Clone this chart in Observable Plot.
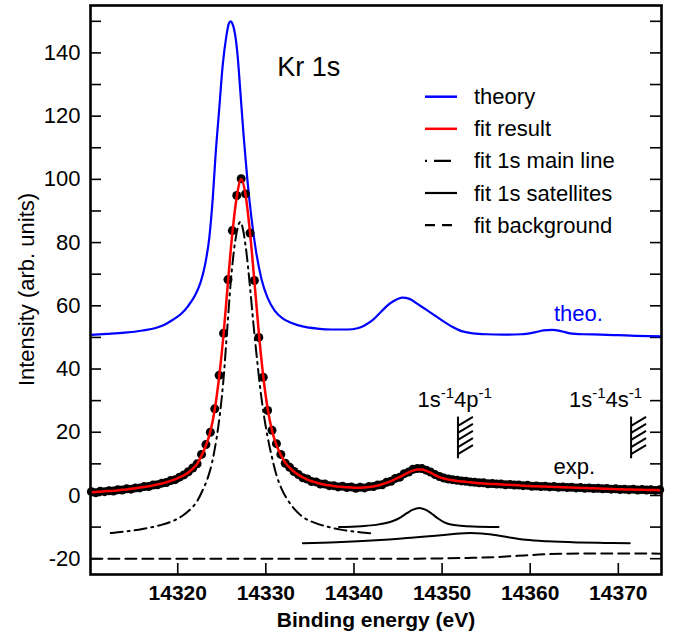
<!DOCTYPE html>
<html><head><meta charset="utf-8">
<script src="https://cdn.jsdelivr.net/npm/d3@7"></script>
<script src="https://cdn.jsdelivr.net/npm/@observablehq/plot@0.6"></script>
<style>
html,body{margin:0;padding:0;background:#fff;}
#wrap{position:relative;width:673px;height:634px;font-family:"Liberation Sans",Arial,Helvetica,sans-serif;}
#wrap svg{position:absolute;left:0;top:0;}
</style></head><body><div id="wrap"></div>
<script>
// ---------- data ----------
const xTicks = [14320, 14330, 14340, 14350, 14360, 14370];
const yLabelTicks = [-20, 0, 20, 40, 60, 80, 100, 120, 140];
const yTicks = [-20,-10,0,10,20,30,40,50,60,70,80,90,100,110,120,130,140,150];

// theory (blue)
const theoryX = [14310.1,14312,14314,14316,14317.5,14318.5,14319.4,14320.4,14321.2,14322.0,14322.6,14323.1,14323.6,14324.0,14324.3,14324.7,14325.1,14325.5,14325.8,14326.0,14326.2,14326.5,14326.8,14327.1,14327.5,14327.9,14328.4,14328.9,14329.5,14330.2,14331.0,14331.9,14333.0,14334.3,14335.8,14337.5,14339.3,14340.4,14341.2,14342.0,14342.8,14343.6,14344.5,14345.5,14346.3,14347.2,14348.2,14349.2,14350.2,14351.2,14352.2,14353.5,14355.0,14357.0,14359.0,14360.5,14361.5,14362.5,14363.5,14364.5,14366.0,14368.0,14370.0,14372.0,14374.9];
const theoryY = [50.8,51.1,51.5,52.2,53.0,54.0,55.5,57.5,60.0,63.5,67.5,73.0,82.0,95.0,108,122,136,145,149.3,150,149.3,146,139,128,113,100,87,77,68.5,62.5,58.5,56.0,54.5,53.4,52.8,52.5,52.5,52.9,53.8,55.2,57.3,59.6,61.5,62.6,62.2,60.6,58.8,56.9,55.0,53.3,52.0,51.3,51.0,50.9,51.0,51.6,52.2,52.4,52.0,51.3,51.0,50.9,50.7,50.5,50.3];

// experiment (dots) and fit result (red) on the same energy grid
const expX = [
14310.2,14310.7,14311.2,14311.7,14312.2,14312.7,14313.2,14313.7,14314.2,14314.7,
14315.2,14315.7,14316.2,14316.7,14317.2,14317.7,14318.2,14318.7,14319.2,14319.7,
14320.2,14320.7,14321.2,14321.7,14322.2,14322.7,14323.2,14323.7,14324.2,14324.7,
14325.2,14325.7,14326.2,14326.7,14327.2,14327.7,14328.2,14328.7,14329.2,14329.7,
14330.2,14330.7,14331.2,14331.7,14332.2,14332.7,14333.2,14333.7,14334.2,14334.7,
14335.2,14335.7,14336.2,14336.7,14337.2,14337.7,14338.2,14338.7,14339.2,14339.7,
14340.2,14340.7,14341.2,14341.7,14342.2,14342.7,14343.2,14343.7,14344.2,14344.7,
14345.2,14345.7,14346.2,14346.7,14347.2,14347.7,14348.2,14348.7,14349.2,14349.7,
14350.2,14350.7,14351.2,14351.7,14352.2,14352.7,14353.2,14353.7,14354.2,14354.7,
14355.2,14355.7,14356.2,14356.7,14357.2,14357.7,14358.2,14358.7,14359.2,14359.7,
14360.2,14360.7,14361.2,14361.7,14362.2,14362.7,14363.2,14363.7,14364.2,14364.7,
14365.2,14365.7,14366.2,14366.7,14367.2,14367.7,14368.2,14368.7,14369.2,14369.7,
14370.2,14370.7,14371.2,14371.7,14372.2,14372.7,14373.2,14373.7,14374.2,14374.7];
const expY = [
1.2,0.9,1.3,1.2,1.5,1.4,1.8,1.7,2.1,2.0,
2.4,2.4,2.8,2.8,3.3,3.4,3.9,4.1,4.7,5.0,
5.8,6.5,7.5,8.7,10.0,13.0,16.1,20.0,27.4,38.0,
51.3,68.3,83.8,94.9,100.2,95.4,83.0,68.0,50.0,37.4,
26.9,20.6,16.4,13.0,10.2,8.9,7.6,6.6,5.6,5.2,
4.4,4.3,3.6,3.6,3.1,3.1,2.7,2.9,2.5,2.7,
2.3,2.6,2.4,2.8,2.8,3.3,3.4,4.2,4.5,5.4,
5.8,6.9,7.4,8.3,8.5,8.5,8.0,7.4,6.6,6.0,
5.5,5.2,5.0,4.8,4.6,4.5,4.3,4.2,4.0,4.0,
3.7,3.8,3.6,3.6,3.4,3.5,3.3,3.3,3.1,3.2,
2.9,3.0,2.8,2.9,2.7,2.8,2.6,2.7,2.5,2.6,
2.4,2.5,2.3,2.4,2.2,2.3,2.1,2.2,2.0,2.1,
1.9,2.0,1.8,2.0,1.7,1.9,1.7,1.8,1.6,1.8];
const fitY = [
1.0,1.1,1.2,1.3,1.4,1.5,1.6,1.8,1.9,2.1,
2.3,2.5,2.7,2.9,3.2,3.5,3.8,4.2,4.6,5.1,
5.7,6.4,7.3,8.5,10.0,12.6,15.8,20.2,27.2,37.5,
51.0,67.5,83.0,94.5,100.0,95.0,83.2,67.8,51.5,37.8,
27.5,20.5,16.0,12.8,10.4,8.8,7.5,6.5,5.7,5.0,
4.5,4.1,3.7,3.4,3.2,3.0,2.8,2.7,2.6,2.5,
2.45,2.45,2.5,2.65,2.85,3.15,3.55,4.0,4.55,5.15,
5.85,6.6,7.3,7.85,8.2,8.2,7.8,7.2,6.45,5.8,
5.35,5.05,4.8,4.6,4.45,4.3,4.15,4.0,3.9,3.8,
3.7,3.65,3.6,3.5,3.4,3.35,3.3,3.2,3.1,3.0,
2.95,2.9,2.85,2.8,2.75,2.7,2.65,2.6,2.55,2.5,
2.45,2.4,2.35,2.3,2.25,2.2,2.15,2.1,2.05,2.0,
1.95,1.9,1.9,1.85,1.8,1.8,1.75,1.7,1.7,1.65];

// fit 1s main line (dash-dot)
const mainX = [14312.4,14314.0,14316.0,14318.0,14319.5,14320.5,14321.5,14322.2,14322.8,14323.4,14323.9,14324.4,14324.8,14325.2,14325.6,14326.0,14326.5,14327.1,14327.7,14328.2,14328.6,14329.0,14329.4,14329.8,14330.2,14330.7,14331.2,14331.8,14332.5,14333.3,14334.2,14335.5,14337.0,14338.5,14340.0,14341.2,14342.2];
const mainY = [-11.9,-11.4,-10.6,-9.4,-8.0,-6.5,-4.2,-1.8,1.5,5.5,10.5,18,26,37,52,67,80,86.5,79,66,54,43,33,25,18.5,12,6.5,2.0,-1.5,-4.5,-6.8,-8.6,-9.9,-10.8,-11.4,-11.8,-12.0];

// fit 1s satellites (solid black)
const sat1X = [14338.3,14340.8,14342.5,14343.5,14344.5,14345.3,14346.0,14346.7,14347.4,14348.1,14348.8,14349.5,14350.2,14351.0,14352.1,14353.5,14356.4];
const sat1Y = [-10.0,-9.7,-9.3,-8.8,-8.0,-6.9,-5.6,-4.5,-4.0,-4.5,-5.7,-7.2,-8.4,-9.2,-9.6,-9.85,-10.0];
const sat2X = [14334.2,14338,14341,14344,14346.5,14348.5,14350.5,14352.0,14353.2,14354.5,14356.0,14357.5,14359.5,14362,14365.5,14368.5,14371.3];
const sat2Y = [-15.1,-14.8,-14.4,-13.9,-13.4,-12.9,-12.4,-12.0,-11.9,-12.0,-12.5,-13.2,-14.0,-14.5,-14.85,-15.0,-15.1];

// fit background (dashed)
const bgX = [14310.2,14345,14350,14353,14356,14358.5,14361,14363.5,14366,14370,14374.8];
const bgY = [-20.0,-20.0,-19.9,-19.75,-19.5,-19.1,-18.7,-18.45,-18.35,-18.35,-18.4];

// satellite thresholds
const thresholdX = [14351.8, 14371.45];
const thresholdLabel = [["1s","-1","4p","-1"], ["1s","-1","4s","-1"]];

// legend entries
const legendLabels = ["theory", "fit result", "fit 1s main line", "fit 1s satellites", "fit background"];

// axis titles
const xTitle = "Binding energy (eV)";
const yTitle = "Intensity (arb. units)";

// ---------- layout ----------
const W = 673, H = 634, mL = 90, mR = 12, mT = 5, mB = 60;
const frameW = W - mL - mR, frameH = H - mT - mB;
const FONT = '"Liberation Sans", Arial, Helvetica, sans-serif';
const tickLen = 11;

const idx = a => a.map((_, i) => i);

// threshold marker geometry (vertical bar with hatches)
const markerY1 = 11.6, markerY2 = 24.8;
const hatchStarts = [22.0, 19.8, 17.6, 15.3, 13.1];
const hatchRun = 1.7, hatchRise = 2.85;
const hatches = thresholdX.flatMap(x => hatchStarts.map(y => ({x1: x, y1: y, x2: x + hatchRun, y2: y + hatchRise})));
const thresholdTextX = [14347.2, 14364.4];
const thresholdTextY = 28.0;

const chart = Plot.plot({
  width: W, height: H,
  marginLeft: mL, marginRight: mR, marginTop: mT, marginBottom: mB,
  style: {fontFamily: FONT, background: "white", color: "black", overflow: "visible"},
  x: {domain: [14310.1, 14374.9], axis: null},
  y: {domain: [-25, 155], axis: null},
  marks: [
    // tick labels
    Plot.text(yLabelTicks, {y: d => d, frameAnchor: "left", dx: -10, textAnchor: "end", lineAnchor: "middle", text: d => String(d), fontSize: 22}),
    Plot.text(xTicks, {x: d => d, frameAnchor: "bottom", dy: 11, textAnchor: "middle", lineAnchor: "top", text: d => String(d), fontSize: 21, fontWeight: "bold"}),
    // inward ticks
    Plot.tickX(xTicks, {x: d => d, insetTop: frameH - tickLen, strokeWidth: 1.6}),
    Plot.tickY(yTicks, {y: d => d, insetRight: frameW - tickLen, strokeWidth: 1.6}),
    Plot.tickY(yTicks, {y: d => d, insetLeft: frameW - tickLen, strokeWidth: 1.6}),
    // background
    Plot.line(idx(bgX), {x: bgX, y: bgY, stroke: "black", strokeWidth: 2, strokeDasharray: "11,6", curve: "monotone-x"}),
    // satellites
    Plot.line(idx(sat1X), {x: sat1X, y: sat1Y, stroke: "black", strokeWidth: 2, curve: "monotone-x"}),
    Plot.line(idx(sat2X), {x: sat2X, y: sat2Y, stroke: "black", strokeWidth: 2, curve: "monotone-x"}),
    // main line
    Plot.line(idx(mainX), {x: mainX, y: mainY, stroke: "black", strokeWidth: 2, strokeDasharray: "12,5,2,5", curve: "monotone-x"}),
    // theory
    Plot.line(idx(theoryX), {x: theoryX, y: theoryY, stroke: "#0000ff", strokeWidth: 2.2, curve: "monotone-x"}),
    // experiment
    Plot.dot(idx(expX), {x: expX, y: expY, r: 4.5, fill: "black", stroke: "none"}),
    // fit result
    Plot.line(idx(expX), {x: expX, y: fitY, stroke: "#ff0000", strokeWidth: 2.5, curve: "monotone-x"}),
    // threshold markers
    Plot.ruleX(thresholdX, {x: d => d, y1: markerY1, y2: markerY2, stroke: "black", strokeWidth: 2}),
    Plot.link(hatches, {x1: "x1", y1: "y1", x2: "x2", y2: "y2", stroke: "black", strokeWidth: 2}),
    Plot.text(idx(thresholdX), {x: i => thresholdTextX[i], y: () => thresholdTextY, text: i => thresholdLabel[i].join(""), textAnchor: "start", lineAnchor: "bottom", fontSize: 22}),
    // annotations
    Plot.text(["Kr 1s"], {x: () => 14331.3, y: () => 135.3, text: d => d, textAnchor: "start", fontSize: 27}),
    Plot.text(["theo."], {x: () => 14362.7, y: () => 57.5, text: d => d, textAnchor: "start", fontSize: 22, fill: "#0000ff"}),
    Plot.text(["exp."], {x: () => 14362.65, y: () => 9.1, text: d => d, textAnchor: "start", fontSize: 22}),
    // x axis title
    Plot.text([xTitle], {frameAnchor: "middle", dy: 330, text: d => d, fontSize: 21, fontWeight: "bold"}),
    Plot.frame({stroke: "black", strokeWidth: 2.6})
  ]
});

document.getElementById("wrap").appendChild(chart);

d3.select(chart).selectAll("text").each(function() {
  const t = this.textContent;
  // superscripts for threshold labels
  const li = thresholdLabel.findIndex(p => p.join("") === t);
  if (li < 0) return;
  const parts = thresholdLabel[li];
  const sel = d3.select(this);
  sel.text(null);
  parts.forEach((p, j) => {
    const sup = j % 2 === 1;
    sel.append("tspan").attr("font-size", sup ? 15 : null).attr("dy", j === 0 ? null : (sup ? -9 : 9)).text(p);
  });
});

// overlay: y title and legend
const leg = d3.select("#wrap").append("svg").attr("width", W).attr("height", H)
  .style("pointer-events", "none").attr("font-family", FONT);
leg.append("text")
  .attr("transform", `translate(26,${mT + frameH / 2}) rotate(-90)`)
  .attr("text-anchor", "middle").attr("dominant-baseline", "central")
  .attr("font-size", 22).attr("fill", "black").text(yTitle);

const legStyles = [
  {stroke: "#0000ff", dash: null, w: 2.5},
  {stroke: "#ff0000", dash: null, w: 2.5},
  {stroke: "black", dash: "2,7,17,7", w: 2.2},
  {stroke: "black", dash: null, w: 2.2},
  {stroke: "black", dash: "10,7", w: 2.2}
];
legendLabels.forEach((lab, i) => {
  const y = 96.7 + i * 32.1;
  const s = legStyles[i];
  leg.append("line").attr("x1", 425).attr("x2", 457).attr("y1", y).attr("y2", y)
    .attr("stroke", s.stroke).attr("stroke-width", s.w).attr("stroke-dasharray", s.dash);
  leg.append("text").attr("x", 474).attr("y", y).attr("dominant-baseline", "central")
    .attr("font-size", 22).attr("fill", "black").text(lab);
});
</script>
</body></html>
